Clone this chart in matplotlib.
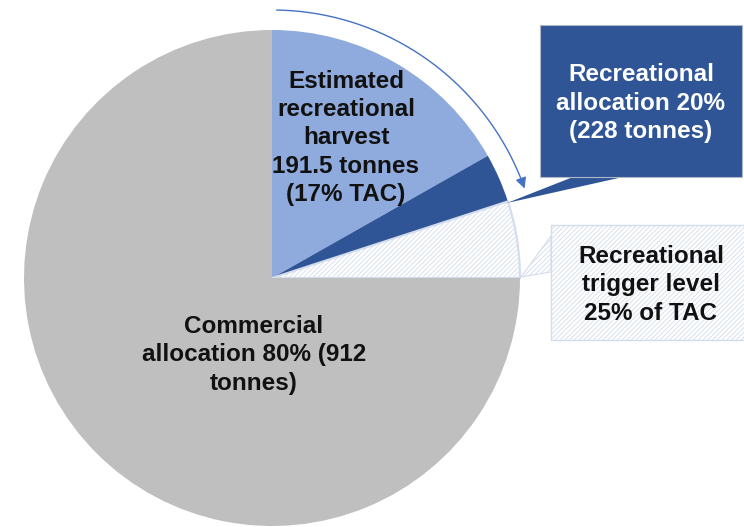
import numpy as np
import matplotlib
matplotlib.use("Agg")
import matplotlib.pyplot as plt
from matplotlib.patches import Rectangle, Polygon, FancyArrowPatch
from matplotlib.path import Path

plt.rcParams['font.family'] = ['Liberation Sans', 'DejaVu Sans']
plt.rcParams['hatch.linewidth'] = 0.6

# Datos (toneladas) de cada sector, en sentido horario desde arriba
segmentos = ['Estimated recreational harvest', 'Remaining recreational allocation',
             'Trigger buffer', 'Commercial']
toneladas = [191.5, 36.5, 57.0, 855.0]
colores = ['#8faadc', '#2f5597', 'white', '#bfbfbf']

etiqueta_cosecha = "Estimated\nrecreational\nharvest\n191.5 tonnes\n(17% TAC)"
etiqueta_asignacion = "Recreational\nallocation 20%\n(228 tonnes)"
etiqueta_disparador = "Recreational\ntrigger level\n25% of TAC"
etiqueta_comercial = "Commercial\nallocation 80% (912\ntonnes)"

W, H = 744, 527
fig = plt.figure(figsize=(W / 100, H / 100), dpi=100)
ax = fig.add_axes([0, 0, 1, 1])

cx, cy, r = 272, H - 278, 248
wedges, _ = ax.pie(toneladas, colors=colores, startangle=90, counterclock=False,
                   center=(cx, cy), radius=r, wedgeprops=dict(linewidth=0))
# Sector rayado del nivel de disparo
wedges[2].set_hatch('///////')
wedges[2].set_edgecolor('#d3dcec')
wedges[2].set_linewidth(1.5)

# Flecha curva sobre la parte recreativa
ang = np.radians(np.linspace(89, 19.5, 100))
ra = 268
pts = np.column_stack([cx + ra * np.cos(ang), cy + ra * np.sin(ang)])
flecha = FancyArrowPatch(path=Path(pts), arrowstyle='-|>', mutation_scale=16,
                         color='#4472c4', lw=1.0)
ax.add_patch(flecha)

# Cuadro azul oscuro con su cola
ax.add_patch(Polygon([(507, H - 203), (573, H - 177), (623, H - 177)],
                     closed=True, facecolor='#2f5597', edgecolor='none'))
ax.add_patch(Rectangle((540, H - 177), 202, 152, facecolor='#2f5597',
                       edgecolor='#b0b8c8', linewidth=0.8))

# Cuadro rayado con su cola
ax.add_patch(Polygon([(521, H - 277), (551, H - 236), (551, H - 272)],
                     closed=True, facecolor='white', edgecolor='#d3dcec',
                     hatch='///////', linewidth=0.8))
ax.add_patch(Rectangle((551, H - 340), 200, 115, facecolor='white',
                       edgecolor='#d3dcec', hatch='///////', linewidth=1.0))

estilo = dict(fontsize=17.5, fontweight='bold', ha='center', va='center',
              linespacing=1.3)
ax.text(641, H - 103, etiqueta_asignacion, color='white', **estilo)
ax.text(651, H - 285, etiqueta_disparador, color='#111111', **estilo)
ax.text(346, H - 138, etiqueta_cosecha, color='#111111', **estilo)
ax.text(254, H - 355, etiqueta_comercial, color='#111111', **estilo)

ax.set_xlim(0, W)
ax.set_ylim(0, H)
ax.set_aspect('equal')
ax.axis('off')

fig.savefig('out.png', dpi=100)
